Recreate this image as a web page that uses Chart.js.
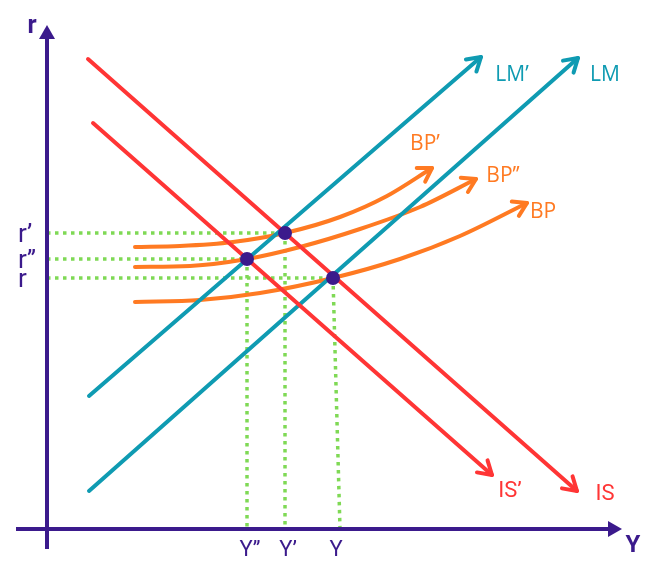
<!DOCTYPE html>
<html lang="en">
<head>
  <meta charset="UTF-8">
  <title>IS-LM-BP</title>
  <style>
    html, body { margin: 0; padding: 0; background: #fff; }
    #wrap { width: 652px; height: 577px; }
  </style>
</head>
<body>
  <div id="wrap"><canvas id="chart"></canvas></div>
  <script src="https://cdn.jsdelivr.net/npm/chart.js"></script>
  <script>
    // economic coordinates: x = Y (output), y = r (interest rate), origin at the axes crossing
    var isCurve = [{x: 41, y: 470}, {x: 530, y: 38}];
    var isPrime = [{x: 46, y: 406}, {x: 445, y: 54}];
    var lmCurve = [{x: 42, y: 38}, {x: 531, y: 471}];
    var lmPrime = [{x: 42, y: 133}, {x: 434, y: 472}];
    var bpCurve = [{x: 88, y: 227}, {x: 153, y: 229}, {x: 213, y: 236}, {x: 286, y: 251}, {x: 353, y: 270}, {x: 413, y: 293}, {x: 480, y: 326}];
    var bpDouble = [{x: 88, y: 262}, {x: 143, y: 263}, {x: 200, y: 270}, {x: 253, y: 282}, {x: 313, y: 300}, {x: 373, y: 322}, {x: 429, y: 350}];
    var bpPrime = [{x: 88, y: 282}, {x: 133, y: 283}, {x: 186, y: 287}, {x: 238, y: 296}, {x: 293, y: 312}, {x: 340, y: 333}, {x: 385, y: 361}];

    // equilibria
    var eqY = [286, 238, 200];      // Y, Y', Y''
    var eqR = [251, 296, 270];      // r, r', r''
    var eqYBase = [293, 238, 200];  // where the dotted drop meets the Y axis
    var yTickLabels = ['Y', 'Y\u2019', 'Y\u2019\u2019'];
    var rTickLabels = ['r', 'r\u2019', 'r\u2019\u2019'];

    var xAxisLine = [{x: -31, y: 0}, {x: 565, y: 0}];
    var yAxisLine = [{x: 0, y: -20}, {x: 0, y: 494}];

    var purple = '#3b1a8c';
    var teal = '#0f9bb2';
    var red = '#ff3535';
    var orange = '#ff7a22';
    var green = '#7fd955';

    var datasets = [];

    datasets.push({
      data: eqY.map(function (v, i) { return {x: v, y: eqR[i]}; }),
      showLine: false,
      pointRadius: 7,
      pointBackgroundColor: purple,
      pointBorderWidth: 0
    });

    function curve(pts, color, arrow) {
      datasets.push({
        data: pts,
        borderColor: color,
        borderWidth: 4,
        pointRadius: 0,
        cubicInterpolationMode: 'monotone',
        borderCapStyle: 'round',
        arrow: arrow
      });
    }
    curve(isCurve, red, 'open');
    curve(isPrime, red, 'open');
    curve(lmCurve, teal, 'open');
    curve(lmPrime, teal, 'open');
    curve(bpCurve, orange, 'open');
    curve(bpDouble, orange, 'open');
    curve(bpPrime, orange, 'open');

    datasets.push({ data: xAxisLine, borderColor: purple, borderWidth: 4, pointRadius: 0, arrow: 'solid' });
    datasets.push({ data: yAxisLine, borderColor: purple, borderWidth: 4, pointRadius: 0, arrow: 'solid' });

    eqY.forEach(function (v, i) {
      datasets.push({
        data: [{x: 0, y: eqR[i]}, {x: v, y: eqR[i]}],
        borderColor: green, borderWidth: 3.5, borderDash: [3.5, 4.5], pointRadius: 0
      });
      datasets.push({
        data: [{x: v, y: eqR[i]}, {x: eqYBase[i], y: 0}],
        borderColor: green, borderWidth: 3.5, borderDash: [3.5, 4.5], pointRadius: 0
      });
    });

    // text labels, placed in chart coordinates
    var curveLabels = [
      {text: 'LM\u2019', x: 465, y: 448, color: teal, font: '21px "Open Sans"'},
      {text: 'LM', x: 558, y: 448, color: teal, font: '21px "Open Sans"'},
      {text: 'BP\u2019', x: 378, y: 379, color: orange, font: '21px "Open Sans"'},
      {text: 'BP\u2019\u2019', x: 456, y: 347, color: orange, font: '21px "Open Sans"'},
      {text: 'BP', x: 496, y: 311, color: orange, font: '21px "Open Sans"'},
      {text: 'IS\u2019', x: 463, y: 32, color: red, font: '22px Roboto'},
      {text: 'IS', x: 558, y: 29, color: red, font: '22px Roboto'},
      {text: 'r', x: -15, y: 496, color: purple, font: 'bold 25px Roboto'},
      {text: 'Y', x: 586, y: -23, color: purple, font: 'bold 24px Roboto'}
    ];

    var drawExtras = {
      id: 'drawExtras',
      afterDatasetsDraw: function (chart) {
        var ctx = chart.ctx;
        var xs = chart.scales.x, ys = chart.scales.y;
        chart.data.datasets.forEach(function (ds) {
          if (!ds.arrow) return;
          var n = ds.data.length;
          var a = ds.data[n - 2], b = ds.data[n - 1];
          var x1 = xs.getPixelForValue(a.x), y1 = ys.getPixelForValue(a.y);
          var x2 = xs.getPixelForValue(b.x), y2 = ys.getPixelForValue(b.y);
          var ang = Math.atan2(y2 - y1, x2 - x1);
          ctx.save();
          ctx.translate(x2, y2);
          ctx.rotate(ang);
          if (ds.arrow === 'open') {
            ctx.strokeStyle = ds.borderColor;
            ctx.lineWidth = 4;
            ctx.lineCap = 'round';
            ctx.lineJoin = 'round';
            ctx.beginPath();
            ctx.moveTo(-13, -8);
            ctx.lineTo(0, 0);
            ctx.lineTo(-13, 8);
            ctx.stroke();
          } else {
            ctx.fillStyle = ds.borderColor;
            ctx.beginPath();
            ctx.moveTo(10, 0);
            ctx.lineTo(-4, -8);
            ctx.lineTo(-4, 8);
            ctx.closePath();
            ctx.fill();
          }
          ctx.restore();
        });

        ctx.save();
        ctx.textBaseline = 'alphabetic';
        ctx.textAlign = 'center';
        curveLabels.forEach(function (l) {
          ctx.fillStyle = l.color;
          ctx.font = l.font;
          ctx.fillText(l.text, xs.getPixelForValue(l.x), ys.getPixelForValue(l.y));
        });
        ctx.fillStyle = purple;
        ctx.font = '22px Roboto';
        eqY.forEach(function (v, i) {
          ctx.textAlign = 'center';
          ctx.fillText(yTickLabels[i], xs.getPixelForValue(v) + 3, ys.getPixelForValue(-27));
        });
        ctx.font = '26px Roboto';
        ctx.textAlign = 'left';
        eqR.forEach(function (v, i) {
          ctx.fillText(rTickLabels[i], xs.getPixelForValue(-29), ys.getPixelForValue(v) + 9);
        });
        ctx.restore();
      }
    };

    new Chart(document.getElementById('chart'), {
      type: 'line',
      data: { datasets: datasets },
      options: {
        responsive: true,
        maintainAspectRatio: false,
        animation: false,
        layout: { padding: 0, autoPadding: false },
        plugins: { legend: { display: false }, tooltip: { enabled: false } },
        scales: {
          x: { type: 'linear', min: -47, max: 605, display: false },
          y: { type: 'linear', min: -48, max: 529, display: false }
        }
      },
      plugins: [drawExtras]
    });
  </script>
</body>
</html>
